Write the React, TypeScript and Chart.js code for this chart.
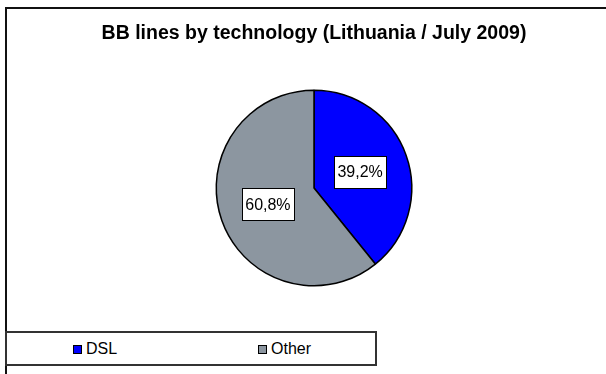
import React, { useEffect, useRef } from "react";
import { Chart, registerables } from "chart.js";

Chart.register(...registerables);

const TITLE = "BB lines by technology (Lithuania / July 2009)";
const categories = ["DSL", "Other"];
const shares = [39.2, 60.8];
const colors = ["#0000FF", "#8C96A0"];

const FONT = "'Liberation Sans', Arial, sans-serif";

const boxLabels = {
  id: "boxLabels",
  afterDatasetsDraw(chart: any) {
    const ctx = chart.ctx;
    const meta = chart.getDatasetMeta(0);
    ctx.save();
    ctx.font = `16px ${FONT}`;
    ctx.textAlign = "center";
    ctx.textBaseline = "middle";
    meta.data.forEach((arc: any, i: number) => {
      const { x, y } = arc.tooltipPosition(false);
      const text = shares[i].toFixed(1).replace(".", ",") + "%";
      const w = Math.round(ctx.measureText(text).width + 7);
      const h = 32;
      const bx = Math.round(x - w / 2) + 0.5;
      const by = Math.round(y - h / 2) + 0.5;
      ctx.fillStyle = "#ffffff";
      ctx.fillRect(bx, by, w, h);
      ctx.strokeStyle = "#000000";
      ctx.lineWidth = 1;
      ctx.strokeRect(bx, by, w, h);
      ctx.fillStyle = "#000000";
      ctx.fillText(text, x, y + 1);
    });
    ctx.restore();
  },
};

export default function App() {
  const ref = useRef<HTMLCanvasElement | null>(null);

  useEffect(() => {
    if (!ref.current) return;
    const chart = new Chart(ref.current, {
      type: "pie",
      data: {
        labels: categories,
        datasets: [
          {
            data: shares,
            backgroundColor: colors,
            borderColor: "#000000",
            borderWidth: 1.5,
          },
        ],
      },
      options: {
        responsive: false,
        maintainAspectRatio: false,
        animation: false,
        layout: { padding: { top: 0, bottom: 87.5, left: 0, right: 0 } },
        plugins: {
          legend: { display: false },
          tooltip: { enabled: false },
          title: {
            display: true,
            text: TITLE,
            color: "#000000",
            font: { family: FONT, size: 19.5, weight: "bold" },
            padding: { top: 22.3, bottom: 43.8 },
          },
        },
      },
      plugins: [boxLabels],
    });
    return () => chart.destroy();
  }, []);

  return (
    <div
      style={{
        position: "fixed",
        left: 0,
        top: 0,
        width: 606,
        height: 374,
        overflow: "hidden",
        background: "#ffffff",
      }}
    >
      <div
        style={{
          position: "absolute",
          left: 5,
          top: 7,
          width: 660,
          height: 420,
          border: "2px solid #111",
          boxSizing: "border-box",
        }}
      />
      <canvas
        ref={ref}
        width={628}
        height={374}
        style={{ position: "absolute", left: 0, top: 0, width: 628, height: 374 }}
      />
      <div
        style={{
          position: "absolute",
          left: 5,
          top: 331,
          width: 372,
          height: 35,
          border: "2px solid #333",
          boxSizing: "border-box",
          background: "#ffffff",
          fontFamily: FONT,
          fontSize: 16,
          color: "#000",
        }}
      >
        {categories.map((c, i) => (
          <div
            key={c}
            style={{
              position: "absolute",
              left: [66, 251][i],
              top: 0,
              height: 31,
              display: "flex",
              alignItems: "center",
              lineHeight: "16px",
            }}
          >
            <span
              style={{
                display: "inline-block",
                width: 9,
                height: 9,
                background: colors[i],
                border: "1px solid #000",
                boxSizing: "border-box",
                marginRight: 4,
                marginTop: 2,
              }}
            />
            <span>{c}</span>
          </div>
        ))}
      </div>
    </div>
  );
}
